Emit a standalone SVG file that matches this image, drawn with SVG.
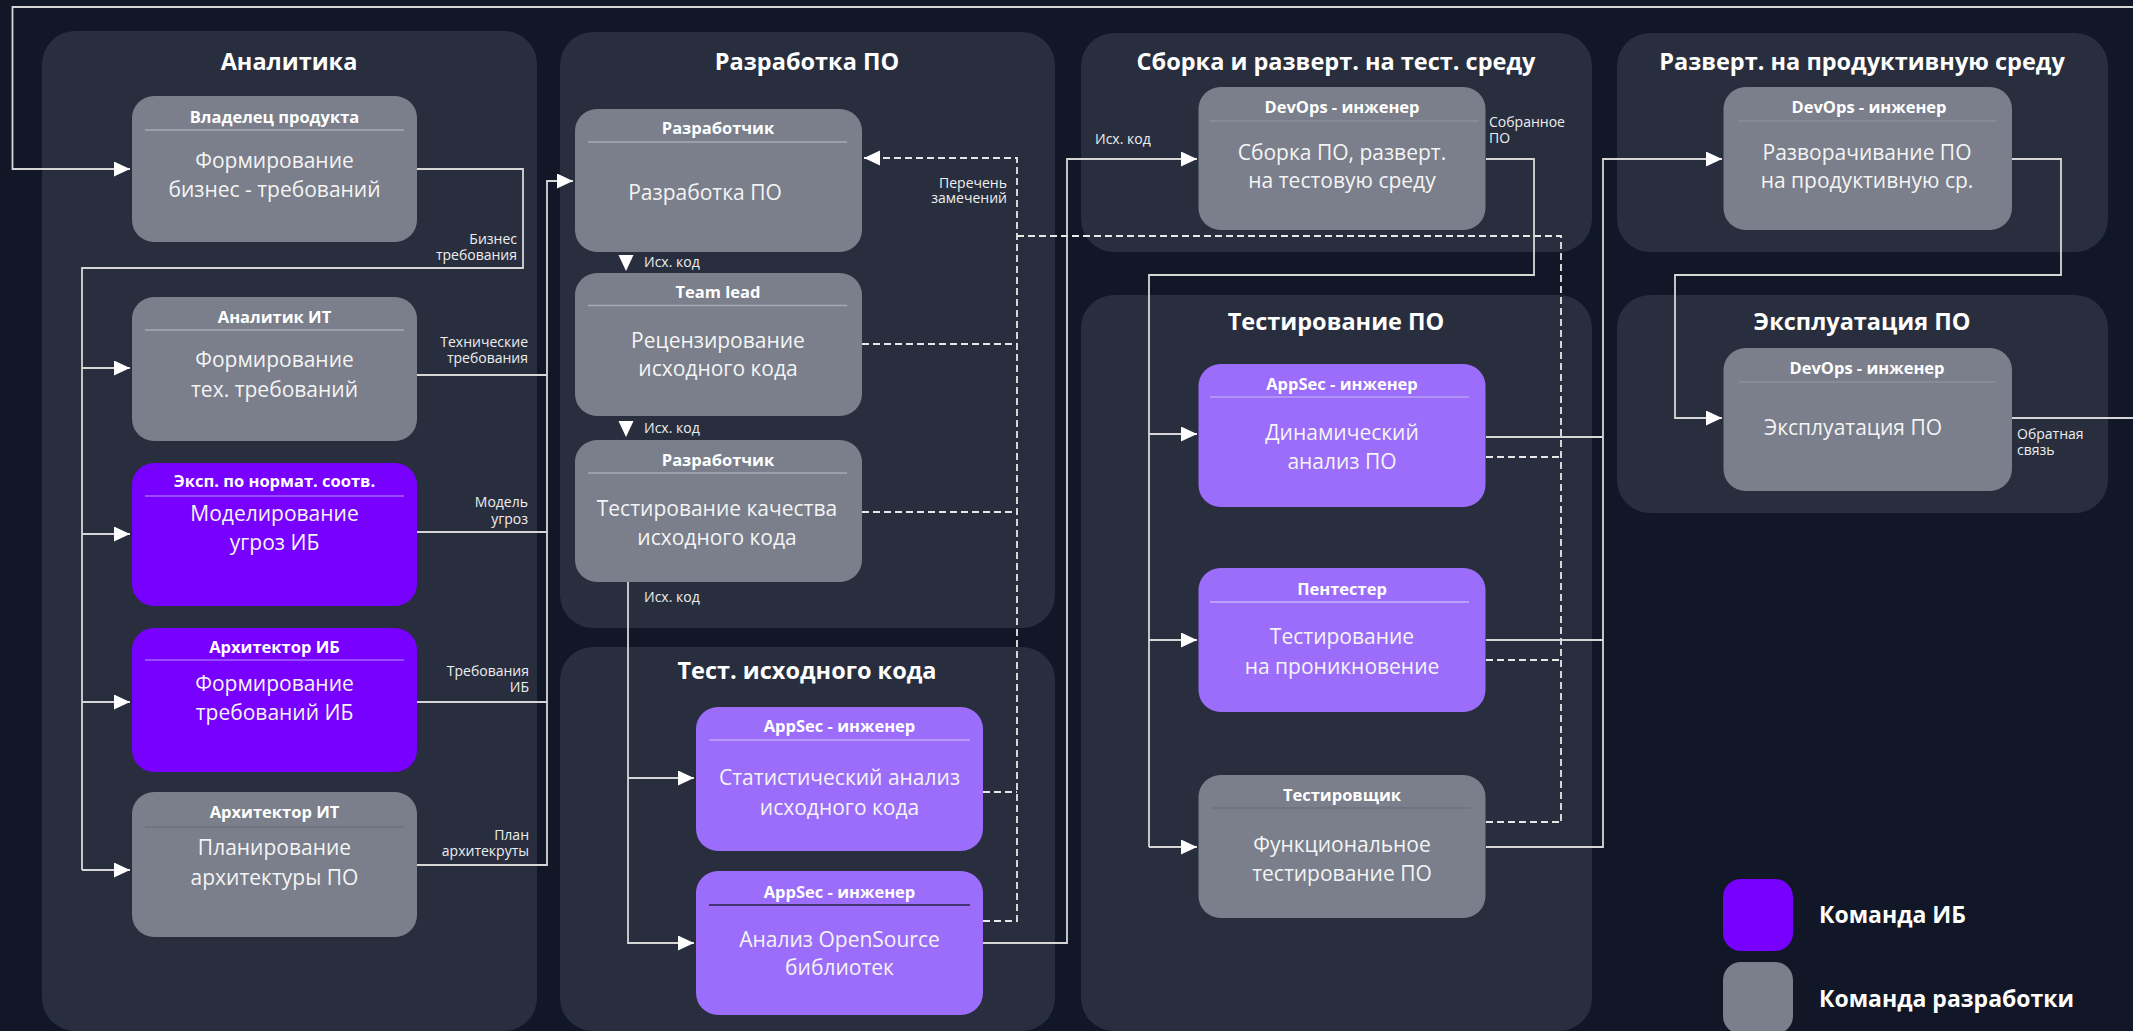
<svg xmlns="http://www.w3.org/2000/svg" width="2133" height="1031" viewBox="0 0 2133 1031">
<style>
text{font-family:"Open Sans","Noto Sans","DejaVu Sans",sans-serif}
.panel{fill:#282e3e}
.ptitle{font-weight:700;font-size:23.5px;fill:#fff;text-anchor:middle}
.grey{fill:#7a7f8b}
.ib{fill:#7700ff}
.sec{fill:#9b6dfa}
.hdr{font-weight:700;font-size:16.5px;fill:#fff;text-anchor:middle}
.body{font-size:21px;fill:#f4f4f4;text-anchor:middle}
.lbl{font-size:14px;fill:#eeeeee}
.r{text-anchor:end}
.sep{stroke-width:1.5}
.ln{stroke:#d6d6d6;stroke-width:1.8;fill:none}
.dash{stroke:#e8e8e8;stroke-width:1.8;fill:none;stroke-dasharray:7 4}
.leg{font-weight:700;font-size:23px;fill:#fff}
</style>
<defs>
<marker id="ah" markerUnits="userSpaceOnUse" markerWidth="17" markerHeight="16" refX="16" refY="7.5" orient="auto"><path d="M0,0 L16,7.5 L0,15 z" fill="#ffffff"/></marker>
</defs>
<rect x="0" y="0" width="2133" height="1031" fill="#111726"/>

<g id="panels">
<g id="p-analytics"><rect class="panel" x="42" y="31" width="495" height="1000" rx="33"/><text class="ptitle" x="289" y="70">Аналитика</text></g>
<g id="p-dev"><rect class="panel" x="560" y="32" width="495" height="596" rx="33"/><text class="ptitle" x="807" y="70">Разработка ПО</text></g>
<g id="p-srctest"><rect class="panel" x="560" y="647" width="495" height="384" rx="33"/><text class="ptitle" x="807" y="679">Тест. исходного кода</text></g>
<g id="p-build"><rect class="panel" x="1081" y="33" width="511" height="219" rx="33"/><text class="ptitle" x="1336" y="70">Сборка и разверт. на тест. среду</text></g>
<g id="p-test"><rect class="panel" x="1081" y="295" width="511" height="736" rx="33"/><text class="ptitle" x="1336" y="330">Тестирование ПО</text></g>
<g id="p-deploy"><rect class="panel" x="1617" y="33" width="491" height="219" rx="33"/><text class="ptitle" x="1862" y="70">Разверт. на продуктивную среду</text></g>
<g id="p-ops"><rect class="panel" x="1617" y="295" width="491" height="218" rx="33"/><text class="ptitle" x="1862" y="330">Эксплуатация ПО</text></g>
</g>

<g id="connectors">
<path class="ln" d="M2012,418 H2140 V7 H12.5 V169 H130" marker-end="url(#ah)"/>
<path class="ln" d="M417,169 H523 V268 H82 V870"/>
<path class="ln" d="M82,368 H130" marker-end="url(#ah)"/>
<path class="ln" d="M82,534 H130" marker-end="url(#ah)"/>
<path class="ln" d="M82,702 H130" marker-end="url(#ah)"/>
<path class="ln" d="M82,870 H130" marker-end="url(#ah)"/>
<path class="ln" d="M417,375 H547"/>
<path class="ln" d="M417,532 H547"/>
<path class="ln" d="M417,702 H547"/>
<path class="ln" d="M417,865 H547 V181 H573" marker-end="url(#ah)"/>
<polygon points="618.5,255 633.5,255 626,271" fill="#ffffff"/>
<polygon points="618.5,421 633.5,421 626,437" fill="#ffffff"/>
<path class="ln" d="M628,582 V943 H694" marker-end="url(#ah)"/>
<path class="ln" d="M628,778 H694" marker-end="url(#ah)"/>
<path class="dash" d="M862,344 H1017"/>
<path class="dash" d="M862,512 H1017"/>
<path class="dash" d="M983,792 H1017"/>
<path class="dash" d="M983,921 H1017 V158 H864" marker-end="url(#ah)"/>
<path class="dash" d="M1017,236 H1561 V822"/>
<path class="dash" d="M1486,457 H1561"/>
<path class="dash" d="M1486,660 H1561"/>
<path class="dash" d="M1486,822 H1561"/>
<path class="ln" d="M983,943 H1067 V159 H1197" marker-end="url(#ah)"/>
<path class="ln" d="M1486,159 H1534 V275 H1149 V847"/>
<path class="ln" d="M1149,434 H1197" marker-end="url(#ah)"/>
<path class="ln" d="M1149,640 H1197" marker-end="url(#ah)"/>
<path class="ln" d="M1149,847 H1197" marker-end="url(#ah)"/>
<path class="ln" d="M1486,437 H1603"/>
<path class="ln" d="M1486,640 H1603"/>
<path class="ln" d="M1486,847 H1603 V159 H1722" marker-end="url(#ah)"/>
<path class="ln" d="M2012,159 H2061 V275 H1675 V418 H1722" marker-end="url(#ah)"/>
</g>

<g id="labels">
<text class="lbl r" x="517" y="244">Бизнес</text><text class="lbl r" x="517" y="260">требования</text>
<text class="lbl r" x="528" y="347">Технические</text><text class="lbl r" x="528" y="363">требования</text>
<text class="lbl r" x="528" y="507">Модель</text><text class="lbl r" x="528" y="524">угроз</text>
<text class="lbl r" x="529" y="676">Требования</text><text class="lbl r" x="529" y="692">ИБ</text>
<text class="lbl r" x="529" y="840">План</text><text class="lbl r" x="529" y="856">архитекруты</text>
<text class="lbl r" x="1007" y="188">Перечень</text><text class="lbl r" x="1007" y="203">замечений</text>
<text class="lbl" x="644" y="267">Исх. код</text>
<text class="lbl" x="644" y="433">Исх. код</text>
<text class="lbl" x="644" y="602">Исх. код</text>
<text class="lbl" x="1095" y="144">Исх. код</text>
<text class="lbl" x="1489" y="127">Собранное</text><text class="lbl" x="1489" y="143">ПО</text>
<text class="lbl" x="2017" y="439">Обратная</text><text class="lbl" x="2017" y="455">связь</text>
</g>

<g id="n-owner"><rect class="grey" x="132" y="96" width="285" height="146" rx="22"/><text class="hdr" x="274.5" y="123">Владелец продукта</text><line class="sep" x1="145" y1="130" x2="404" y2="130" stroke="#a5a9b2"/><text class="body" x="274.5" y="168">Формирование</text><text class="body" x="274.5" y="197">бизнес - требований</text></g>
<g id="n-analyst"><rect class="grey" x="132" y="297" width="285" height="144" rx="22"/><text class="hdr" x="274.5" y="323">Аналитик ИТ</text><line class="sep" x1="145" y1="330" x2="404" y2="330" stroke="#a5a9b2"/><text class="body" x="274.5" y="367">Формирование</text><text class="body" x="274.5" y="397">тех. требований</text></g>
<g id="n-compliance"><rect class="ib" x="132" y="463" width="285" height="143" rx="22"/><text class="hdr" x="274.5" y="487">Эксп. по нормат. соотв.</text><line class="sep" x1="145" y1="496" x2="404" y2="496" stroke="#a366ff"/><text class="body" x="274.5" y="521">Моделирование</text><text class="body" x="274.5" y="550">угроз ИБ</text></g>
<g id="n-secarch"><rect class="ib" x="132" y="628" width="285" height="144" rx="22"/><text class="hdr" x="274.5" y="653">Архитектор ИБ</text><line class="sep" x1="145" y1="660" x2="404" y2="660" stroke="#a366ff"/><text class="body" x="274.5" y="691">Формирование</text><text class="body" x="274.5" y="720">требований ИБ</text></g>
<g id="n-itarch"><rect class="grey" x="132" y="792" width="285" height="145" rx="22"/><text class="hdr" x="274.5" y="818">Архитектор ИТ</text><line class="sep" x1="145" y1="827" x2="404" y2="827" stroke="#6c707a"/><text class="body" x="274.5" y="855">Планирование</text><text class="body" x="274.5" y="885">архитектуры ПО</text></g>

<g id="n-dev1"><rect class="grey" x="575" y="109" width="287" height="143" rx="22"/><text class="hdr" x="718" y="134">Разработчик</text><line class="sep" x1="588" y1="142" x2="847" y2="142" stroke="#a5a9b2"/><text class="body" x="705" y="200">Разработка ПО</text></g>
<g id="n-teamlead"><rect class="grey" x="575" y="273" width="287" height="143" rx="22"/><text class="hdr" x="718" y="298">Team lead</text><line class="sep" x1="588" y1="305.5" x2="847" y2="305.5" stroke="#a5a9b2"/><text class="body" x="718" y="348">Рецензирование</text><text class="body" x="718" y="376">исходного кода</text></g>
<g id="n-dev2"><rect class="grey" x="575" y="440" width="287" height="142" rx="22"/><text class="hdr" x="718" y="466">Разработчик</text><line class="sep" x1="588" y1="473" x2="847" y2="473" stroke="#a5a9b2"/><text class="body" x="717" y="516">Тестирование качества</text><text class="body" x="717" y="545">исходного кода</text></g>

<g id="n-sast"><rect class="sec" x="696" y="707" width="287" height="144" rx="22"/><text class="hdr" x="839.5" y="732">AppSec - инженер</text><line class="sep" x1="709" y1="740" x2="970" y2="740" stroke="#c0a6fc"/><text class="body" x="839.5" y="785">Статистический анализ</text><text class="body" x="839.5" y="815">исходного кода</text></g>
<g id="n-sca"><rect class="sec" x="696" y="871" width="287" height="144" rx="22"/><text class="hdr" x="839.5" y="898">AppSec - инженер</text><line class="sep" x1="709" y1="905" x2="970" y2="905" stroke="#2a2345"/><text class="body" x="839.5" y="947">Анализ OpenSource</text><text class="body" x="839.5" y="975">библиотек</text></g>

<g id="n-build"><rect class="grey" x="1198.5" y="87" width="287" height="143" rx="22"/><text class="hdr" x="1342" y="113">DevOps - инженер</text><line class="sep" x1="1210" y1="121" x2="1479" y2="121" stroke="#8b8f99"/><text class="body" x="1342" y="160">Сборка ПО, разверт.</text><text class="body" x="1342" y="188">на тестовую среду</text></g>

<g id="n-dast"><rect class="sec" x="1198.5" y="364" width="287" height="143" rx="22"/><text class="hdr" x="1342" y="390">AppSec - инженер</text><line class="sep" x1="1210" y1="397" x2="1469" y2="397" stroke="#b7a2f0"/><text class="body" x="1342" y="440">Динамический</text><text class="body" x="1342" y="469">анализ ПО</text></g>
<g id="n-pentest"><rect class="sec" x="1198.5" y="568" width="287" height="144" rx="22"/><text class="hdr" x="1342" y="595">Пентестер</text><line class="sep" x1="1210" y1="602" x2="1469" y2="602" stroke="#c5b3fb"/><text class="body" x="1342" y="644">Тестирование</text><text class="body" x="1342" y="674">на проникновение</text></g>
<g id="n-qa"><rect class="grey" x="1198.5" y="775" width="287" height="143" rx="22"/><text class="hdr" x="1342" y="801">Тестировщик</text><line class="sep" x1="1212" y1="808" x2="1471" y2="808" stroke="#6c707a"/><text class="body" x="1342" y="852">Функциональное</text><text class="body" x="1342" y="881">тестирование ПО</text></g>

<g id="n-deploy"><rect class="grey" x="1723.5" y="87" width="288.5" height="143" rx="22"/><text class="hdr" x="1869" y="113">DevOps - инженер</text><line class="sep" x1="1739" y1="121" x2="1996" y2="121" stroke="#8b8f99"/><text class="body" x="1867" y="160">Разворачивание ПО</text><text class="body" x="1867" y="188">на продуктивную ср.</text></g>
<g id="n-ops"><rect class="grey" x="1723.5" y="348" width="288.5" height="143" rx="22"/><text class="hdr" x="1867" y="374">DevOps - инженер</text><line class="sep" x1="1739" y1="382" x2="1996" y2="382" stroke="#8b8f99"/><text class="body" x="1853" y="435">Эксплуатация ПО</text></g>

<g id="legend">
<rect class="ib" x="1723" y="879" width="70" height="72" rx="18"/><text class="leg" x="1819" y="923">Команда ИБ</text>
<rect class="grey" x="1723" y="962" width="70" height="72" rx="18"/><text class="leg" x="1819" y="1007">Команда разработки</text>
</g>
</svg>
